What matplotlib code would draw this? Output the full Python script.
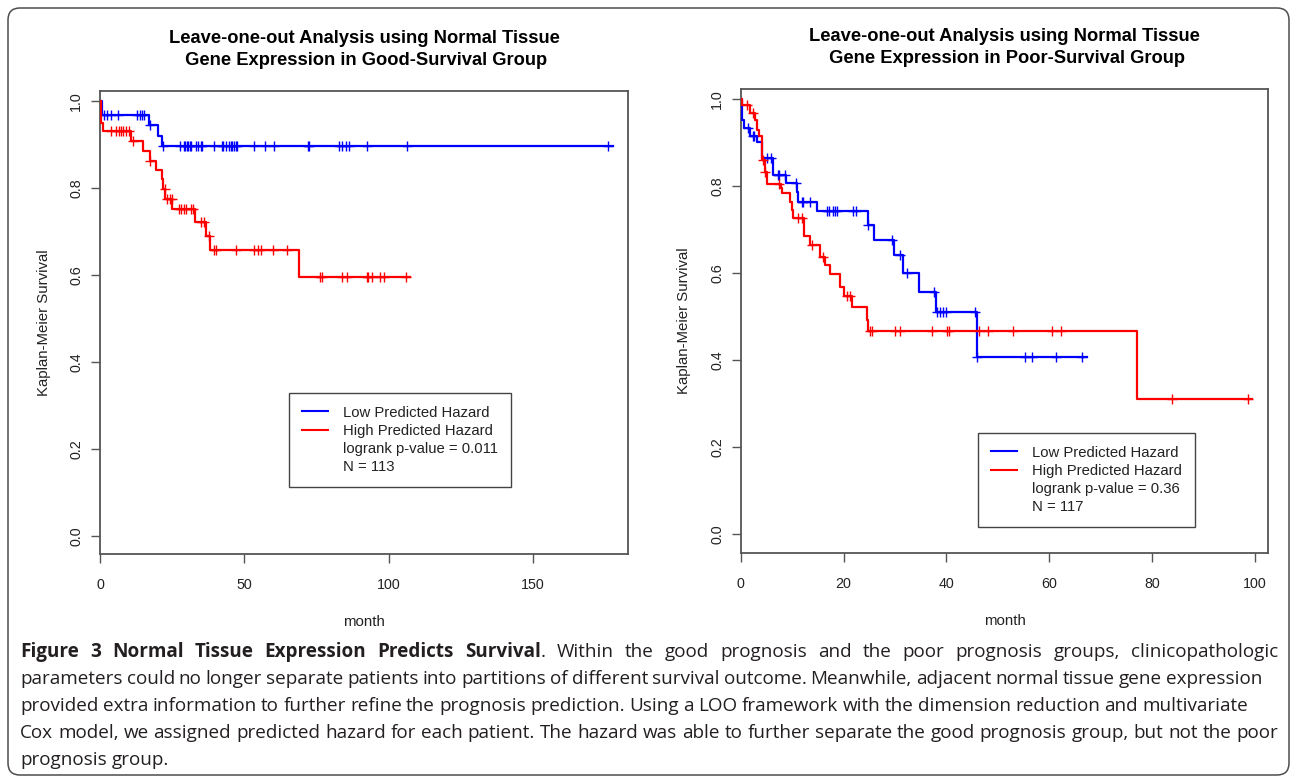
import numpy as np
import matplotlib
matplotlib.use("Agg")
import matplotlib.pyplot as plt
from matplotlib.lines import Line2D
from matplotlib.patches import FancyBboxPatch
from matplotlib.transforms import IdentityTransform

# ---- good-survival group (left panel) ----
good_low_times = [0, 0.6, 17.0, 20.0, 21.5]
good_low_surv = [1.0, 0.967, 0.944, 0.919, 0.896]
good_low_last = 177.7
good_low_censor = [1.5, 2.4, 3.8, 6.1, 12.8, 13.9, 14.7, 15.3, 17.4, 21.7, 27.8, 29.0,
                   29.5, 30.1, 30.5, 31.1, 31.5, 33.2, 33.8, 34.9, 35.3, 39.5, 42.2,
                   42.8, 43.6, 44.8, 45.3, 45.9, 46.5, 47.1, 47.6, 53.4, 57.1, 60.3,
                   72.1, 72.4, 82.8, 84.0, 85.1, 86.3, 92.4, 106.5, 176.2]

good_high_times = [0, 0.5, 1.0, 10.7, 14.8, 17.4, 19.4, 21.5, 22.0, 22.6, 25.1, 32.9,
                   36.7, 38.0, 69.0]
good_high_surv = [1.0, 0.949, 0.931, 0.908, 0.885, 0.863, 0.842, 0.821, 0.798, 0.775,
                  0.751, 0.722, 0.690, 0.657, 0.596]
good_high_last = 107.4
good_high_censor = [3.8, 5.5, 6.7, 7.3, 7.9, 9.0, 10.1, 11.3, 17.5, 22.5, 23.2, 24.1,
                    24.9, 27.4, 28.0, 29.2, 29.8, 31.5, 32.1, 34.9, 36.1, 37.8, 39.5,
                    40.1, 47.3, 53.4, 54.6, 55.7, 59.8, 64.9, 76.2, 77.0, 84.0, 85.5,
                    92.4, 93.0, 94.4, 97.2, 98.4, 105.9]

# ---- poor-survival group (right panel) ----
poor_low_times = [0, 0.3, 0.6, 1.9, 3.1, 4.1, 6.3, 8.9, 10.9, 11.2, 14.8, 24.7, 25.9,
                  29.8, 31.6, 34.6, 37.9, 46.0]
poor_low_surv = [1.0, 0.952, 0.933, 0.916, 0.902, 0.864, 0.825, 0.806, 0.787, 0.764,
                 0.743, 0.711, 0.676, 0.642, 0.601, 0.557, 0.510, 0.408]
poor_low_last = 67.4
poor_low_censor = [1.5, 2.3, 2.6, 5.05, 5.8, 7.2, 7.5, 8.6, 10.75, 11.9, 12.2, 13.5,
                   16.7, 17.1, 18.0, 18.3, 18.7, 21.9, 22.4, 24.7, 29.35, 31.0, 32.3,
                   37.5, 38.1, 38.75, 39.3, 39.9, 45.6, 46.0, 55.3, 56.6, 61.4, 66.3]

poor_high_times = [0, 0.3, 1.9, 2.8, 3.2, 3.6, 4.2, 4.7, 5.05, 7.8, 8.1, 9.5, 9.9,
                   10.2, 12.3, 13.5, 15.5, 16.4, 17.4, 19.3, 20.0, 21.6, 24.5, 24.8, 77.0]
poor_high_surv = [1.0, 0.986, 0.967, 0.952, 0.929, 0.914, 0.860, 0.833, 0.804, 0.795,
                  0.783, 0.764, 0.745, 0.726, 0.685, 0.665, 0.638, 0.619, 0.597, 0.569,
                  0.548, 0.523, 0.493, 0.468, 0.312]
poor_high_last = 99.5
poor_high_censor = [1.3, 2.3, 4.4, 4.7, 7.5, 11.2, 11.9, 13.8, 16.1, 20.6, 21.25, 25.1,
                    25.5, 30.0, 31.0, 37.2, 40.2, 40.6, 46.3, 48.1, 52.9, 60.5, 62.2,
                    83.8, 98.7]

titles = ["Leave-one-out Analysis using Normal Tissue\n Gene Expression in Good-Survival Group",
          "Leave-one-out Analysis using Normal Tissue\n Gene Expression in Poor-Survival Group"]
legend_labels = ["Low Predicted Hazard", "High Predicted Hazard"]
pvalues = ["logrank p-value = 0.011", "logrank p-value = 0.36"]
n_labels = ["N = 113", "N = 117"]
xticks_left = [0, 50, 100, 150]
xticks_right = [0, 20, 40, 60, 80, 100]
yticks = [0.0, 0.2, 0.4, 0.6, 0.8, 1.0]

caption_lines = [
    [("Figure 3 Normal Tissue Expression Predicts Survival", True),
     (". Within the good prognosis and the poor prognosis groups, clinicopathologic", False)],
    [("parameters could no longer separate patients into partitions of different survival "
      "outcome. Meanwhile, adjacent normal tissue gene expression", False)],
    [("provided extra information to further refine the prognosis prediction. Using a LOO "
      "framework with the dimension reduction and multivariate", False)],
    [("Cox model, we assigned predicted hazard for each patient. The hazard was able to "
      "further separate the good prognosis group, but not the poor", False)],
    [("prognosis group.", False)],
]

W, H = 1292, 778
plt.rcParams["font.family"] = ["Liberation Sans", "DejaVu Sans"]

fig = plt.figure(figsize=(W / 100, H / 100), dpi=100)
fig.patch.set_facecolor("white")


def km_curve(ax, times, surv, last, censor, color):
    t = np.append(times, last)
    s = np.append(surv, surv[-1])
    ax.step(t, s, where="post", color=color, lw=1.6, zorder=3)
    idx = np.searchsorted(times, censor, side="right") - 1
    ax.plot(censor, np.asarray(surv)[idx], ls="none", marker="+", ms=7.5, mew=1.0,
            color=color, zorder=3)


def style_panel(ax, title, xlim, xticks, pval, nlab, anchor):
    ax.set_xlim(*xlim)
    ax.set_ylim(-0.042, 1.023)
    ax.set_xticks(xticks)
    ax.set_yticks(yticks)
    ax.set_yticklabels(["%.1f" % v for v in yticks])
    ax.tick_params(direction="out", length=6.5, width=1.0, color="#555555",
                   labelcolor="#222222", labelsize=10.3)
    ax.tick_params(axis="x", pad=11)
    ax.tick_params(axis="y", pad=5.5)
    plt.setp(ax.get_yticklabels(), rotation=90, va="center")
    for sp in ax.spines.values():
        sp.set_color("#555555")
        sp.set_linewidth(1.3)
    ax.set_xlabel("month", fontsize=10.8, color="#222222", labelpad=16.5)
    ax.set_ylabel("Kaplan-Meier Survival", fontsize=10.8, color="#222222", labelpad=13.5)
    ax.set_title(title, fontsize=13.2, fontweight="bold", linespacing=1.38, pad=19)

    handles = [Line2D([], [], color="blue", lw=1.5), Line2D([], [], color="red", lw=1.5),
               Line2D([], [], color="none"), Line2D([], [], color="none")]
    labels = legend_labels + [pval, nlab]
    leg = ax.legend(handles, labels, loc="upper left", bbox_to_anchor=anchor,
                    fontsize=10.7, frameon=True, fancybox=False, edgecolor="#444444",
                    framealpha=1, borderpad=0.85, labelspacing=0.275, handlelength=1.8,
                    handletextpad=1.0, borderaxespad=0)
    leg.get_frame().set_linewidth(1.0)
    for txt in leg.get_texts():
        txt.set_color("#222222")


ax1 = fig.add_axes([100 / W, 1 - 554 / H, 528 / W, 463 / H])
km_curve(ax1, good_low_times, good_low_surv, good_low_last, good_low_censor, "blue")
km_curve(ax1, good_high_times, good_high_surv, good_high_last, good_high_censor, "red")
style_panel(ax1, titles[0], (0, 183), xticks_left, pvalues[0], n_labels[0], (0.358, 0.3477))

ax2 = fig.add_axes([740.7 / W, 1 - 552.7 / H, 527.6 / W, 463.7 / H])
km_curve(ax2, poor_low_times, poor_low_surv, poor_low_last, poor_low_censor, "blue")
km_curve(ax2, poor_high_times, poor_high_surv, poor_high_last, poor_high_censor, "red")
style_panel(ax2, titles[1], (0, 102.6), xticks_right, pvalues[1], n_labels[1], (0.4498, 0.258))

# rounded frame around the whole figure
frame = FancyBboxPatch((8, 3), 1281, 767, boxstyle="round,pad=0,rounding_size=12",
                       transform=IdentityTransform(), fill=False, ec="#4d4d4d", lw=1.1)
fig.add_artist(frame)

# caption, laid out word by word so each line ends where it does in the original
renderer = fig.canvas.get_renderer()
caption_right = [1278, 1262, 1248, 1278, None]
caption_base = [657, 684, 711, 738, 765]
cap_left = 20
cap_size = 12.0


def put(x, y, s, bold):
    return fig.text(x / W, 1 - y / H, s, fontsize=cap_size, family=["Open Sans", "DejaVu Sans"],
                    fontweight="bold" if bold else "normal", va="baseline", ha="left",
                    color="#231f20")


def split_words(segs):
    out = []
    for text, bold in segs:
        parts = text.split(" ")
        for i, p in enumerate(parts):
            if p == "":
                continue
            if i == 0 and out:
                out[-1].append((p, bold))
            else:
                out.append([(p, bold)])
    return out


def text_width(s, bold):
    t = put(0, 0, s, bold)
    w = t.get_window_extent(renderer).width
    t.remove()
    return w


# pick the font size so that the third line has its natural length
space_w = text_width("a a", False) - 2 * text_width("a", False)
ref_words = split_words(caption_lines[2])
natural = sum(sum(text_width(p, b) for p, b in w) for w in ref_words) + space_w * (len(ref_words) - 1)
cap_size = cap_size * (caption_right[2] - cap_left) / natural
space_w = text_width("a a", False) - 2 * text_width("a", False)

for segs, right, base in zip(caption_lines, caption_right, caption_base):
    words = split_words(segs)
    widths = [sum(text_width(p, b) for p, b in w) for w in words]
    if right is None or len(words) < 2:
        gap = space_w
    else:
        gap = (right - cap_left - sum(widths)) / (len(words) - 1)
    x = cap_left
    for w, wd in zip(words, widths):
        xx = x
        for p, b in w:
            put(xx, base, p, b)
            xx += text_width(p, b)
        x += wd + gap

fig.savefig("out.png", dpi=100)
